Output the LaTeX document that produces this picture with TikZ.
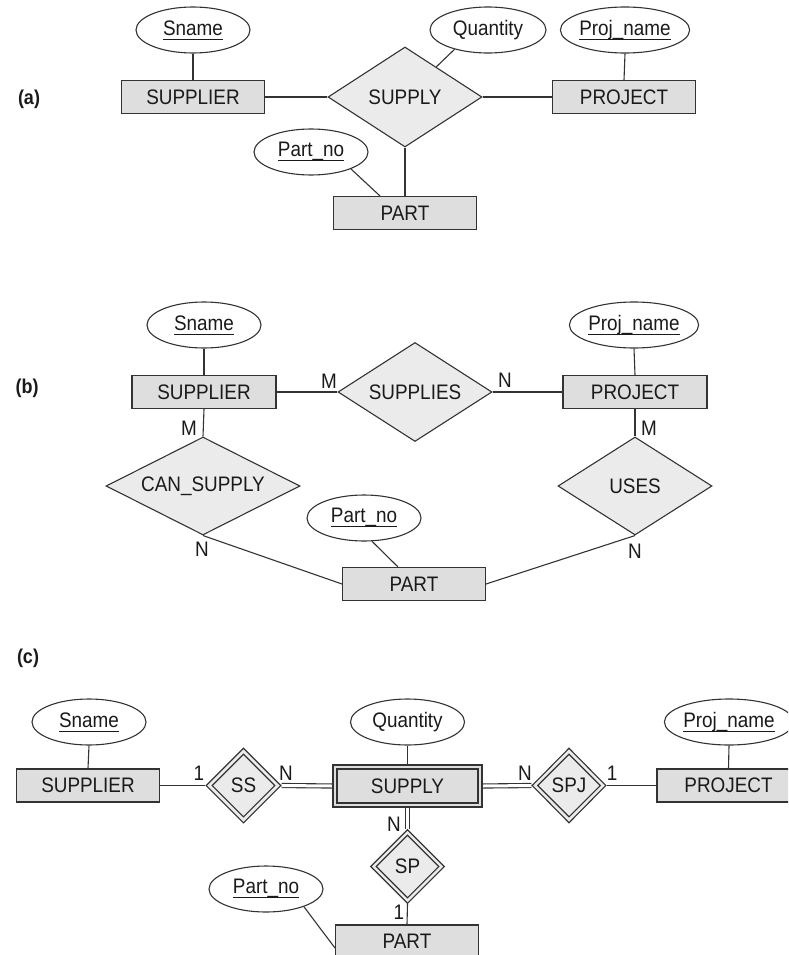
\documentclass[tikz,border=0pt]{standalone}
\usepackage{fontspec}
\setmainfont{Liberation Sans}[FakeStretch=0.9]
\usetikzlibrary{shapes.geometric,backgrounds,calc}
\definecolor{linec}{HTML}{333333}
\definecolor{entfill}{HTML}{DEDEDE}
\definecolor{relfill}{HTML}{EBEBEB}
\definecolor{txt}{HTML}{1A1A1A}
\newcommand{\keyattr}[1]{\sbox0{#1}\leavevmode\rlap{\rule[-4.5pt]{\wd0}{1pt}}\usebox0}
\begin{document}
\begin{tikzpicture}[x=1pt,y=-1pt,
  every node/.style={text=txt, font=\fontsize{21}{25}\selectfont},
  ent/.style={draw=linec, line width=1.1pt, fill=entfill, rectangle, minimum width=143pt, minimum height=33pt, inner sep=0pt},
  entin/.style={draw=linec, line width=1.1pt, rectangle, minimum width=141pt, minimum height=34pt, inner sep=0pt},
  rel/.style={draw=linec, line width=1.1pt, fill=relfill, diamond, shape aspect=1.6, inner sep=0pt},
  relin/.style={draw=linec, line width=1.1pt, diamond, shape aspect=1, inner sep=0pt, minimum width=63pt, minimum height=63pt},
  attr/.style={draw=linec, line width=1.1pt, fill=white, ellipse, minimum width=114pt, minimum height=46pt, inner sep=0pt},
  card/.style={inner sep=0pt},
  tag/.style={inner sep=0pt, font=\fontsize{20}{24}\selectfont\bfseries},
  conn/.style={draw=linec, line width=1.1pt},
  dconn/.style={draw=linec, line width=1.1pt, double=white, double distance=3pt},
]
\useasboundingbox (0,0) rectangle (788,955);
\clip (0,0) rectangle (788,955);

% ---------------- (a) ----------------
\node[tag] (a-tag) at (29,99) {(a)};
\node[attr] (a-sname) at (193,30) {\keyattr{Sname}};
\node[ent] (a-supplier) at (193,97) {SUPPLIER};
\node[rel, minimum width=154pt, minimum height=100pt] (a-supply) at (405,97) {SUPPLY};
\node[attr, minimum width=116pt] (a-qty) at (488,30) {Quantity};
\node[attr] (a-projname) at (625,30) {\keyattr{Proj\_name}};
\node[ent] (a-project) at (624,97) {PROJECT};
\node[attr] (a-partno) at (311,152) {\keyattr{Part\_no}};
\node[ent] (a-part) at (405,213) {PART};

% ---------------- (b) ----------------
\node[tag] (b-tag) at (27,388) {(b)};
\node[attr] (b-sname) at (204,325) {\keyattr{Sname}};
\node[ent, minimum width=144pt] (b-supplier) at (204,392) {SUPPLIER};
\node[rel, minimum width=154pt, minimum height=99pt] (b-supplies) at (415,392) {SUPPLIES};
\node[ent, minimum width=144pt] (b-project) at (635,392) {PROJECT};
\node[attr] (b-projname) at (634,325) {\keyattr{Proj\_name}};
\node[rel, shape aspect=2, minimum width=194pt, minimum height=98pt] (b-can) at (203,486) {CAN\_SUPPLY};
\node[rel, minimum width=154pt, minimum height=98pt] (b-uses) at (635,486) {USES};
\node[attr] (b-partno) at (364,518) {\keyattr{Part\_no}};
\node[ent] (b-part) at (414,584) {PART};
\node[card] (b-m1) at (329,381) {M};
\node[card] (b-n1) at (505,380) {N};
\node[card] (b-m2) at (189,428) {M};
\node[card] (b-m3) at (649,428) {M};
\node[card] (b-n2) at (202,549) {N};
\node[card] (b-n3) at (635,551) {N};

% ---------------- (c) ----------------
\node[tag] (c-tag) at (28,658) {(c)};
\node[attr] (c-sname) at (89,722) {\keyattr{Sname}};
\node[ent] (c-supplier) at (88,785.5) {SUPPLIER};
\node[rel, shape aspect=1, minimum width=75pt, minimum height=75pt] (c-ss) at (243.5,785.5) {};
\node[relin] (c-ss-in) at (243.5,785.5) {SS};
\node[ent, minimum width=149pt, minimum height=42pt] (c-supply) at (407.5,786) {};
\node[entin] (c-supply-in) at (407.5,786) {SUPPLY};
\node[attr] (c-qty) at (407.5,722) {Quantity};
\node[rel, shape aspect=1, minimum width=74pt, minimum height=75pt] (c-spj) at (569,785.5) {};
\node[relin] (c-spj-in) at (569,785.5) {SPJ};
\node[ent] (c-project) at (728.5,785.5) {PROJECT};
\node[attr] (c-projname) at (729,722) {\keyattr{Proj\_name}};
\node[rel, shape aspect=1, minimum width=74pt, minimum height=74pt] (c-sp) at (407.5,866.5) {};
\node[relin] (c-sp-in) at (407.5,866.5) {SP};
\node[attr] (c-partno) at (266,889) {\keyattr{Part\_no}};
\node[ent] (c-part) at (407,941.5) {PART};
\node[card] (c-1a) at (199,773) {1};
\node[card] (c-na) at (286,773) {N};
\node[card] (c-nb) at (525,773) {N};
\node[card] (c-1b) at (612,773) {1};
\node[card] (c-nc) at (394,824) {N};
\node[card] (c-1c) at (399,912) {1};

\begin{pgfonlayer}{background}
% (a)
\draw[conn] (a-sname.south) -- (a-supplier.north);
\draw[conn] (a-supplier.east) -- (a-supply.west);
\draw[conn] (a-supply.east) -- (a-project.west);
\draw[conn] (a-projname.south) -- (a-project.north);
\draw[conn] (a-qty.210) -- (a-supply);
\draw[conn] (a-supply.south) -- (a-part.north);
\draw[conn] (a-partno.-23) -- ([xshift=-25pt]a-part.north);
% (b)
\draw[conn] (b-sname.south) -- (b-supplier.north);
\draw[conn] (b-supplier.east) -- (b-supplies.west);
\draw[conn] (b-supplies.east) -- (b-project.west);
\draw[conn] (b-projname.south) -- (b-project.north);
\draw[conn] (b-supplier.south) -- (b-can.north);
\draw[conn] (b-project.south) -- (b-uses.north);
\draw[conn] (b-can.south) -- (b-part.west);
\draw[conn] (b-uses.south) -- (b-part.east);
\draw[conn] (b-partno.-71) -- ([xshift=-16pt]b-part.north);
% (c)
\draw[conn] (c-sname.south) -- (c-supplier.north);
\draw[conn] (c-supplier.east) -- (c-ss.west);
\draw[dconn] (c-ss.east) -- (c-supply.west);
\draw[dconn] (c-supply.east) -- (c-spj.west);
\draw[conn] (c-spj.east) -- (c-project.west);
\draw[conn] (c-projname.south) -- (c-project.north);
\draw[conn] (c-qty.south) -- (c-supply.north);
\draw[dconn] (c-supply.south) -- (c-sp.north);
\draw[conn] (c-sp.south) -- (c-part.north);
\draw[conn] (c-partno.-25) -- ([yshift=-6.5pt]c-part.west);
\end{pgfonlayer}
\end{tikzpicture}
\end{document}
